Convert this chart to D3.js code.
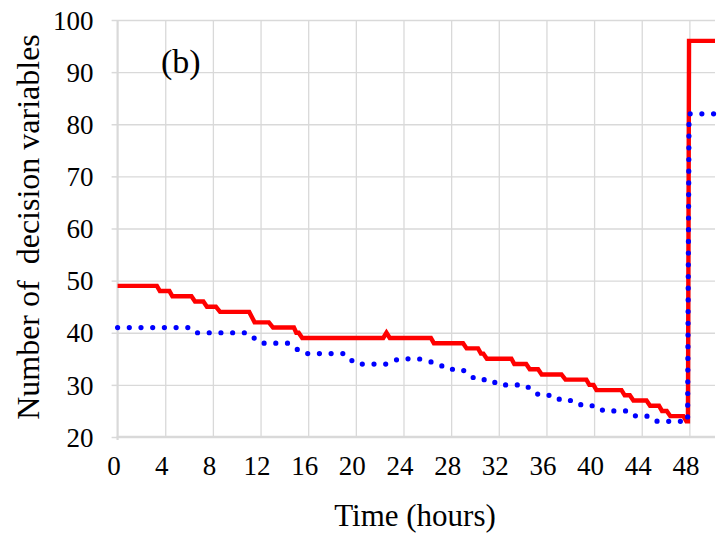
<!DOCTYPE html>
<html>
<head>
<meta charset="utf-8">
<script src="https://cdn.jsdelivr.net/npm/d3@7"></script>
<style>
  html, body { margin: 0; padding: 0; background: #fff; }
  svg { display: block; }
  text { font-family: "Liberation Serif", "Times New Roman", serif; fill: #000; }
</style>
</head>
<body>
<svg id="chart" width="727" height="537"></svg>
<script>
// ---- data ----
const xTickValues = [0, 4, 8, 12, 16, 20, 24, 28, 32, 36, 40, 44, 48];
const yTickValues = [20, 30, 40, 50, 60, 70, 80, 90, 100];

// red solid series: time (hours), number of decision variables
const redTime = [0, 3.3, 3.55, 4.35, 4.6, 6.2, 6.5, 7.2, 7.5, 8.25, 8.6, 11.05, 11.5, 12.7, 13.05,
  14.8, 15.0, 15.2, 15.5, 22.3, 22.57, 22.85, 26.3, 26.55, 29.0, 29.3, 30.26, 30.5, 30.7, 31.0,
  33.06, 33.3, 34.3, 34.6, 35.3, 35.6, 37.26, 37.6, 39.35, 39.6, 39.95, 40.2, 42.3, 42.57, 43.0,
  43.3, 44.4, 44.7, 45.45, 45.7, 46.1, 46.4, 47.5, 47.75, 47.88, 47.97, 50.15];
const redValue = [49, 49, 48, 48, 47, 47, 46, 46, 45, 45, 44, 44, 42, 42, 41,
  41, 40, 40, 39, 39, 40, 39, 39, 38, 38, 37, 37, 36, 36, 35,
  35, 34, 34, 33, 33, 32, 32, 31, 31, 30, 30, 29, 29, 28, 28,
  27, 27, 26, 26, 25, 25, 24, 24, 23, 23, 96, 96];

// blue dotted series
const blueTime = [0, 6.2, 6.7, 10.9, 12.0, 14.3, 15.6, 19.0, 20.0, 22.6, 23.6, 25.3, 27.0, 27.6,
  28.9, 30.1, 31.4, 31.9, 34.2, 35.4, 36.7, 37.2, 38.4, 39.0, 40.2, 40.8, 43.0, 43.5, 44.7,
  45.3, 47.85, 47.97, 50.15];
const blueValue = [41, 41, 40, 40, 38, 38, 36, 36, 34, 34, 35, 35, 34, 33,
  33, 31, 31, 30, 30, 28, 28, 27, 27, 26, 26, 25, 25, 24, 24,
  23, 23, 82, 82];

const panelLabel = "(b)";
const xTitle = "Time (hours)";
const yTitle = "Number of  decision variables";

// ---- drawing ----
const svg = d3.select("#chart");
const plotLeft = 117.6, plotRight = 715, plotTop = 20, plotBottom = 437;
const serif = "Liberation Serif, Times New Roman, serif";

const x = d3.scaleLinear().domain([0, 50.15]).range([plotLeft, plotRight]);
const y = d3.scaleLinear().domain([20, 100]).range([plotBottom, plotTop]);

const gridColor = "#d9d9d9";

// horizontal gridlines
svg.append("g")
  .attr("transform", `translate(${plotLeft},0)`)
  .call(d3.axisLeft(y).tickValues(yTickValues.slice(1)).tickSize(-(plotRight - plotLeft)).tickFormat(""))
  .call(g => g.select(".domain").remove())
  .call(g => g.selectAll("line").attr("stroke", gridColor).attr("stroke-width", 1.3));

// vertical gridlines
svg.append("g")
  .attr("transform", `translate(0,${plotBottom})`)
  .call(d3.axisBottom(x).tickValues(xTickValues.slice(1)).tickSize(-(plotBottom - plotTop)).tickFormat(""))
  .call(g => g.select(".domain").remove())
  .call(g => g.selectAll("line").attr("stroke", gridColor).attr("stroke-width", 1.3));

// y axis with outward ticks and labels
const yAxis = svg.append("g")
  .attr("transform", `translate(${plotLeft},0)`)
  .call(d3.axisLeft(y).tickValues(yTickValues).tickSize(6).tickPadding(18).tickSizeOuter(0))
  .attr("font-family", serif).attr("font-size", 27);
yAxis.select(".domain").attr("stroke", gridColor).attr("stroke-width", 2.2)
  .attr("d", `M0,${plotTop}V${plotBottom + 3}`);
yAxis.selectAll(".tick line").attr("stroke", gridColor).attr("stroke-width", 1.5);
yAxis.selectAll(".tick text")
  .attr("font-family", serif).attr("font-size", 27)
  .attr("fill", "#000").attr("dy", "0.34em");

// x axis
const xAxis = svg.append("g")
  .attr("transform", `translate(0,${plotBottom})`)
  .call(d3.axisBottom(x).tickValues(xTickValues).tickSize(0).tickPadding(19).tickSizeOuter(0))
  .attr("font-family", serif).attr("font-size", 27);
xAxis.select(".domain").attr("stroke", gridColor).attr("stroke-width", 2.6)
  .attr("d", `M${plotLeft - 1},0H${plotRight}`);
xAxis.selectAll(".tick text")
  .attr("font-family", serif).attr("font-size", 27)
  .attr("fill", "#000").attr("dx", "-4");

// series
const redData = redTime.map((t, i) => [t, redValue[i]]);
const blueData = blueTime.map((t, i) => [t, blueValue[i]]);
const line = d3.line().x(d => x(d[0])).y(d => y(d[1]));

svg.append("path").datum(redData)
  .attr("d", line).attr("fill", "none")
  .attr("stroke", "#ff0000").attr("stroke-width", 4.4).attr("stroke-linejoin", "miter");

svg.append("path").datum(blueData)
  .attr("d", line).attr("fill", "none")
  .attr("stroke", "#0000ff").attr("stroke-width", 5.2)
  .attr("stroke-linecap", "round").attr("stroke-dasharray", "0 11.7");

// texts
svg.append("text").attr("x", 161).attr("y", 73)
  .attr("font-family", serif).attr("font-size", 34).text(panelLabel);

svg.append("text").attr("x", 415).attr("y", 526).attr("text-anchor", "middle")
  .attr("font-family", serif).attr("font-size", 31).text(xTitle);

svg.append("text")
  .attr("transform", "translate(39,227) rotate(-90)")
  .attr("text-anchor", "middle")
  .attr("font-family", serif).attr("font-size", 32)
  .style("white-space", "pre").text(yTitle);
</script>
</body>
</html>
